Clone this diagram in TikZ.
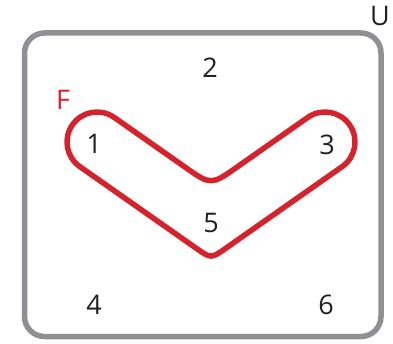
\documentclass[tikz,border=0pt]{standalone}
\usepackage{fontspec}
\setmainfont{Open Sans}
\usetikzlibrary{calc}
\definecolor{ured}{HTML}{D6232B}
\definecolor{ugray}{HTML}{8E9094}
\definecolor{utext}{HTML}{231F20}
\begin{document}
\begin{tikzpicture}[x=1pt,y=1pt,
  lbl/.style={font=\fontsize{27}{30}\selectfont, text=utext, inner sep=0pt},
  setlbl/.style={font=\fontsize{27}{30}\selectfont, inner sep=0pt},
  universe/.style={draw=ugray, line width=5.5pt, rounded corners=20pt},
  setline/.style={draw=ured, line width=5.5pt, line join=round}]
\useasboundingbox (0,0) rectangle (393,343);
% universe
\draw[universe] (24.5,6.5) rectangle (381,310);
% set F outline
\coordinate (C1) at (97,201);
\coordinate (C2) at (325,201);
\coordinate (T1in) at (114.23,225.56);
\coordinate (T1out) at (79.77,176.44);
\coordinate (T2in) at (307.77,225.56);
\coordinate (T2out) at (342.23,176.44);
\coordinate (N) at (211,157.66);
\coordinate (O) at (211,84.36);
\draw[setline] (T1in) -- ($(N)!32pt!(T1in)$) .. controls (N) .. ($(N)!32pt!(T2in)$)
  -- (T2in) arc[start angle=125.06, end angle=-54.94, radius=30]
  -- ($(O)!18pt!(T2out)$) .. controls (O) .. ($(O)!18pt!(T1out)$)
  -- (T1out) arc[start angle=234.94, end angle=54.94, radius=30] -- cycle;
% labels
\node[lbl] (U) at (380,327) {U};
\node[setlbl, text=ured] (F) at (63,243) {F};
\node[lbl] (n1) at (94,199) {1};
\node[lbl] (n2) at (210,275) {2};
\node[lbl] (n3) at (327,198) {3};
\node[lbl] (n5) at (211,120) {5};
\node[lbl] (n4) at (94,38) {4};
\node[lbl] (n6) at (326,38) {6};
\end{tikzpicture}
\end{document}
